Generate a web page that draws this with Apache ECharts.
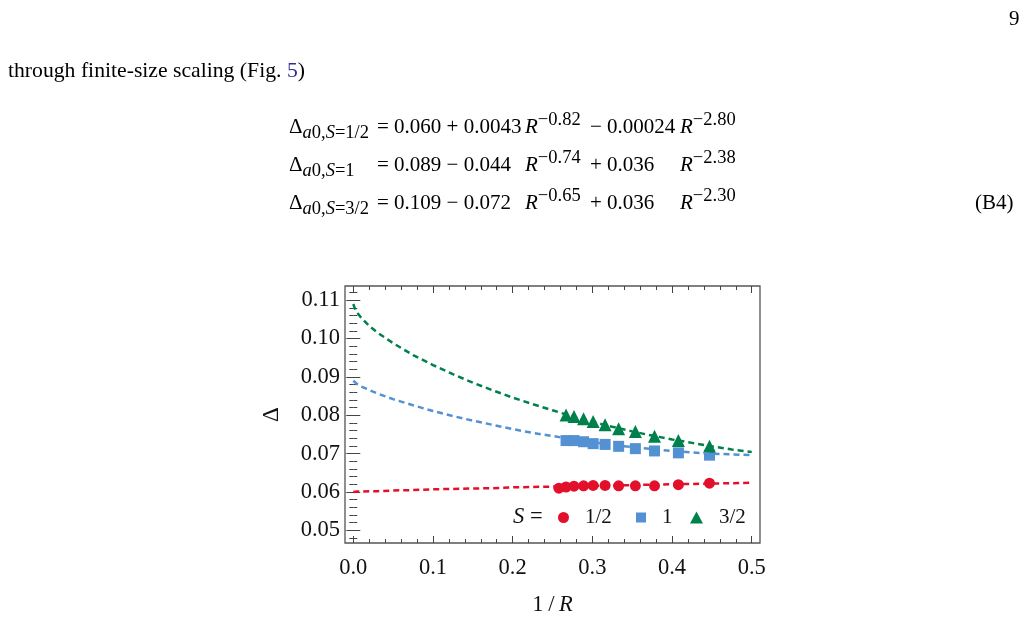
<!DOCTYPE html>
<html lang="en">
<head>
<meta charset="UTF-8">
<title>Delta vs 1/R</title>
<script src="https://cdn.jsdelivr.net/npm/echarts@6/dist/echarts.min.js"></script>
<style>
  body { margin: 0; padding: 0; background: #fff; font-family: "Liberation Serif", serif; color: #000; }
  #main { position: absolute; left: 0; top: 0; width: 1028px; height: 623px; }
  .txt { position: absolute; font-size: 21px; line-height: 21px; white-space: pre; }
  .txt sub, .txt sup { font-size: 18.5px; line-height: 0; }
  .txt sub { vertical-align: -5px; }
  .txt sup { vertical-align: 8px; }
</style>
</head>
<body>
<div id="main"></div>

<div class="txt" style="left:1009px;top:8px">9</div>
<div class="txt" style="left:8px;top:60px;font-size:21.7px">through finite-size scaling (Fig. <span style="color:#2c2c9a">5</span>)</div>

<!-- equation block -->
<div class="txt" style="left:289px;top:116px">Δ<sub><i>a</i>0,<i>S</i>=1/2</sub></div>
<div class="txt" style="left:377px;top:116px">= 0.060 + 0.0043</div>
<div class="txt" style="left:525px;top:116px"><i>R</i><sup>−0.82</sup></div>
<div class="txt" style="left:590px;top:116px">− 0.00024</div>
<div class="txt" style="left:680px;top:116px"><i>R</i><sup>−2.80</sup></div>

<div class="txt" style="left:289px;top:154px">Δ<sub><i>a</i>0,<i>S</i>=1</sub></div>
<div class="txt" style="left:377px;top:154px">= 0.089 − 0.044</div>
<div class="txt" style="left:525px;top:154px"><i>R</i><sup>−0.74</sup></div>
<div class="txt" style="left:590px;top:154px">+ 0.036</div>
<div class="txt" style="left:680px;top:154px"><i>R</i><sup>−2.38</sup></div>

<div class="txt" style="left:289px;top:192px">Δ<sub><i>a</i>0,<i>S</i>=3/2</sub></div>
<div class="txt" style="left:377px;top:192px">= 0.109 − 0.072</div>
<div class="txt" style="left:525px;top:192px"><i>R</i><sup>−0.65</sup></div>
<div class="txt" style="left:590px;top:192px">+ 0.036</div>
<div class="txt" style="left:680px;top:192px"><i>R</i><sup>−2.30</sup></div>

<div class="txt" style="left:975px;top:192px">(B4)</div>

<script>
    // measured points (x = 1/R)
    var xHalf = [0.258, 0.267, 0.277, 0.289, 0.301, 0.316, 0.333, 0.354, 0.378, 0.408, 0.447];
    var yHalf = [0.0610, 0.0613, 0.0615, 0.0616, 0.0617, 0.0617, 0.0616, 0.0616, 0.0616, 0.0619, 0.0623];
    var xOne = [0.267, 0.277, 0.289, 0.301, 0.316, 0.333, 0.354, 0.378, 0.408, 0.447];
    var yOne = [0.0734, 0.0734, 0.0731, 0.0726, 0.0724, 0.0719, 0.0713, 0.0707, 0.0702, 0.0696];
    var xThree = [0.267, 0.277, 0.289, 0.301, 0.316, 0.333, 0.354, 0.378, 0.408, 0.447];
    var yThree = [0.0801, 0.0797, 0.0791, 0.0784, 0.0775, 0.0765, 0.0758, 0.0745, 0.0734, 0.0719];

    // fit curves
    var fitX = [0, 0.0025, 0.005, 0.01, 0.02, 0.03, 0.05, 0.075, 0.1, 0.125, 0.15, 0.175, 0.2,
                0.225, 0.25, 0.275, 0.3, 0.325, 0.35, 0.375, 0.4, 0.425, 0.45, 0.475, 0.5];
    var fitHalf = [0.0600, 0.0600, 0.0601, 0.0601, 0.0602, 0.0602, 0.0604, 0.0605, 0.0607, 0.0608, 0.0609, 0.0610, 0.0612,
                   0.0613, 0.0614, 0.0615, 0.0616, 0.0617, 0.0618, 0.0619, 0.0620, 0.0621, 0.0622, 0.0623, 0.0624];
    var fitOne = [0.0890, 0.0885, 0.0881, 0.0875, 0.0866, 0.0857, 0.0842, 0.0826, 0.0811, 0.0798, 0.0786, 0.0775, 0.0764,
                  0.0754, 0.0746, 0.0737, 0.0730, 0.0723, 0.0717, 0.0712, 0.0707, 0.0703, 0.0700, 0.0698, 0.0696];
    var fitThree = [0.1090, 0.1075, 0.1067, 0.1054, 0.1033, 0.1016, 0.0988, 0.0957, 0.0931, 0.0907, 0.0885, 0.0865, 0.0846,
                    0.0829, 0.0813, 0.0797, 0.0783, 0.0770, 0.0758, 0.0747, 0.0737, 0.0728, 0.0719, 0.0711, 0.0704];

    // ticks
    var xTicks = [0, 0.1, 0.2, 0.3, 0.4, 0.5];
    var yTicks = [0.05, 0.06, 0.07, 0.08, 0.09, 0.10, 0.11];
    var names = ['1/2', '1', '3/2'];

    var xMinor = [];
    for (var i = 0; i <= 25; i++) xMinor.push(i * 0.02);
    var yMinor = [];
    for (var j = 24; j <= 56; j++) yMinor.push(j * 0.002);

    var X_MIN = -0.0104, X_MAX = 0.5104;
    var Y_MIN = 0.0467, Y_MAX = 0.1137;

    var RED = '#e2102a', BLUE = '#5391d2', GREEN = '#00814b';
    var FONT = '"Liberation Serif", serif';

    function pairs(xs, ys) {
        var out = [];
        for (var k = 0; k < xs.length; k++) out.push([xs[k], ys[k]]);
        return out;
    }

    function xAx(pos, vals, len, labels) {
        return {
            type: 'value', position: pos, min: X_MIN, max: X_MAX,
            axisLine: {show: false}, splitLine: {show: false},
            axisTick: {show: true, inside: true, length: len, customValues: vals,
                lineStyle: {color: '#444', width: 1}},
            axisLabel: {show: labels, customValues: vals, margin: 14,
                fontFamily: FONT, fontSize: 22.5, color: '#111',
                formatter: function (v) { return v.toFixed(1); }}
        };
    }
    function yAx(pos, vals, len, labels) {
        return {
            type: 'value', position: pos, min: Y_MIN, max: Y_MAX,
            axisLine: {show: false}, splitLine: {show: false},
            axisTick: {show: true, inside: true, length: len, customValues: vals,
                lineStyle: {color: '#444', width: 1}},
            axisLabel: {show: labels, customValues: vals, margin: 5, padding: [4, 0, 0, 0],
                fontFamily: FONT, fontSize: 22.5, color: '#111',
                formatter: function (v) { return v.toFixed(2); }}
        };
    }

    var xAxes = [xAx('bottom', xTicks, 7, true), xAx('bottom', xMinor, 4, false),
                 xAx('top', xTicks, 7, false), xAx('top', xMinor, 4, false)];
    xAxes[0].name = '{n|1\u2009/\u2009}{i|R}';
    xAxes[0].nameLocation = 'middle';
    xAxes[0].nameGap = 51;
    xAxes[0].nameTextStyle = {
        rich: {n: {fontFamily: FONT, fontSize: 22.5, color: '#111'},
               i: {fontFamily: FONT, fontSize: 22.5, fontStyle: 'italic', color: '#111'}}
    };
    var yAxes = [yAx('left', yTicks, 7, true), yAx('left', yMinor, 4, false),
                 yAx('right', yTicks, 7, false), yAx('right', yMinor, 4, false)];
    yAxes[0].name = 'Δ';
    yAxes[0].nameLocation = 'middle';
    yAxes[0].nameRotate = 90;
    yAxes[0].nameGap = 62;
    yAxes[0].nameTextStyle = {fontFamily: FONT, fontSize: 23, color: '#111'};

    function fit(data, color) {
        return {
            type: 'line', data: data, showSymbol: false, smooth: false,
            silent: true, z: 3,
            lineStyle: {color: color, width: 2.5, type: [6, 4]}
        };
    }
    function pts(name, data, symbol, size, color) {
        return {
            name: name, type: 'scatter', data: data, symbol: symbol, symbolSize: size,
            itemStyle: {color: color, opacity: 1}, z: 2
        };
    }
    function leg(name, left, w, h) {
        return {
            data: [name], left: left, top: 507, itemWidth: w, itemHeight: h,
            selectedMode: false, padding: 0,
            textStyle: {fontFamily: FONT, fontSize: 21, color: '#111', padding: [0, 0, 0, 11]}
        };
    }

    var chart = echarts.init(document.getElementById('main'));
    var option = {
        backgroundColor: '#fff',
        animation: false,
        grid: {left: 345, top: 286, width: 415, height: 257, show: true,
               borderColor: '#555', borderWidth: 1.3, backgroundColor: 'transparent'},
        xAxis: xAxes,
        yAxis: yAxes,
        legend: [leg(names[0], 558, 11, 11), leg(names[1], 636, 10, 10), leg(names[2], 690, 13, 12)],
        graphic: [{
            type: 'text', left: 513, top: 506,
            style: {text: '{i|S} =', rich: {i: {fontStyle: 'italic', fontFamily: FONT, fontSize: 22.5}},
                    fontFamily: FONT, fontSize: 22.5, fill: '#111'}
        }],
        series: [
            pts(names[0], pairs(xHalf, yHalf), 'circle', 11, RED),
            pts(names[1], pairs(xOne, yOne), 'rect', 11, BLUE),
            pts(names[2], pairs(xThree, yThree), 'triangle', 13, GREEN),
            fit(pairs(fitX, fitHalf), RED),
            fit(pairs(fitX, fitOne), BLUE),
            fit(pairs(fitX, fitThree), GREEN)
        ]
    };
    chart.setOption(option);
</script>
</body>
</html>
